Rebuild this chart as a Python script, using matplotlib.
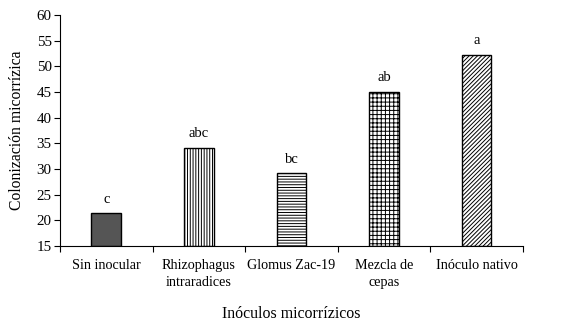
import matplotlib
matplotlib.use('Agg')
import matplotlib.pyplot as plt
import numpy as np

# Data
categories = ['Sin inocular', 'Rhizophagus\nintraradices', 'Glomus Zac-19',
              'Mezcla de\ncepas', 'Inóculo nativo']
values = [21.4, 34.2, 29.2, 45.1, 52.3]
letters = ['c', 'abc', 'bc', 'ab', 'a']

hatches = ['', '||||||', '------', '++++', '////////']
faces = ['#555555', 'white', 'white', 'white', 'white']

plt.rcParams['font.family'] = ['Liberation Serif', 'DejaVu Serif']
plt.rcParams['hatch.linewidth'] = 0.7

fig = plt.figure(figsize=(5.61, 3.26), dpi=100)
ax = fig.add_axes([0.107, 0.245, 0.825, 0.709])

x = np.arange(len(categories))
bars = ax.bar(x, [v - 15 for v in values], bottom=15, width=0.32,
              color=faces, edgecolor='black', linewidth=1.0)
for bar, h in zip(bars, hatches):
    bar.set_hatch(h)

# letters above each bar
for xi, v, lab in zip(x, values, letters):
    ax.text(xi, v + 1.4, lab, ha='center', va='bottom', fontsize=10.5)

ax.set_ylim(15, 60)
ax.set_yticks(np.arange(15, 61, 5))
ax.set_xlim(-0.5, len(categories) - 0.5)

# ticks at category boundaries, labels at centres
ax.set_xticks(np.arange(-0.5, len(categories), 1.0))
ax.set_xticklabels([])
ax.set_xticks(x, minor=True)
ax.set_xticklabels(categories, minor=True, linespacing=1.45)
ax.tick_params(axis='x', which='minor', length=0, pad=9, labelsize=10.2)
ax.tick_params(axis='x', which='major', length=4, direction='out')
ax.tick_params(axis='y', labelsize=10.8, length=4, direction='out', pad=2)

for side in ['top', 'right']:
    ax.spines[side].set_visible(False)

ax.set_ylabel('Colonización micorrízica', fontsize=11.3, labelpad=8)
ax.set_xlabel('Inóculos micorrízicos', fontsize=11.4, labelpad=12)

fig.savefig('out.png', dpi=100)
